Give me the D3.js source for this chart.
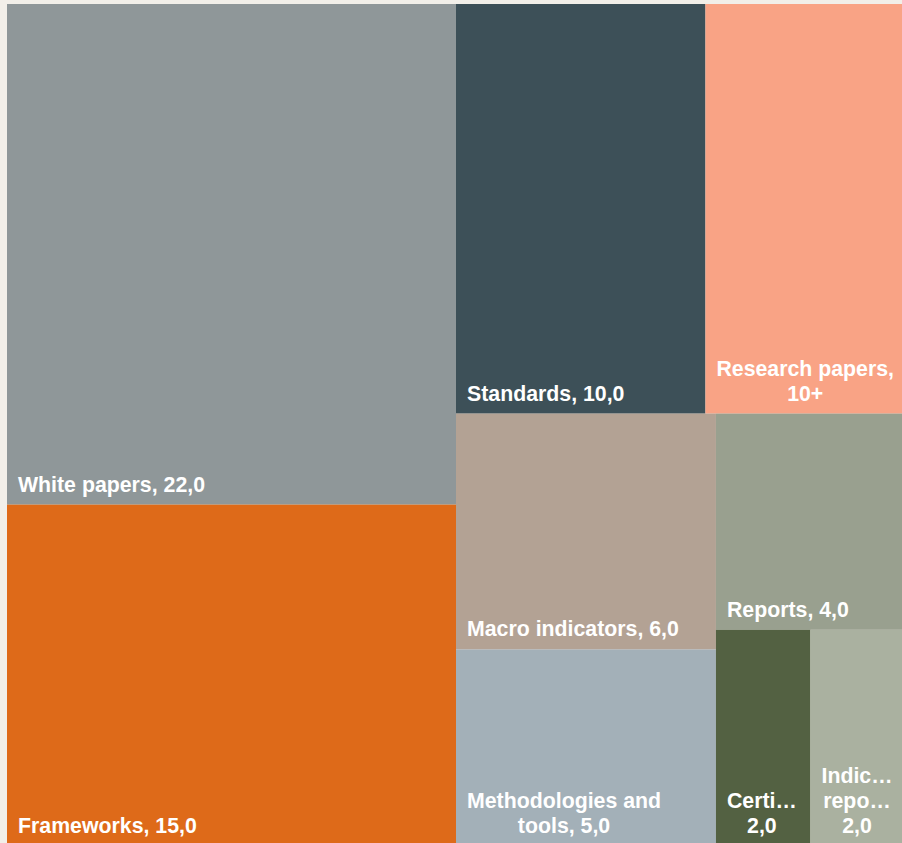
<!DOCTYPE html>
<html>
<head>
<meta charset="utf-8">
<script src="https://cdn.jsdelivr.net/npm/d3@7"></script>
<style>
  body { margin: 0; background: #f2efe9; overflow: hidden; }
  svg { display: block; }
  .lbl { font-family: "Liberation Sans", Arial, sans-serif; font-weight: bold; font-size: 21.3px; fill: #fff; }
</style>
</head>
<body>
<div id="chart"></div>
<script>
var categories = ["White papers", "Frameworks", "Standards", "Research papers", "Macro indicators",
  "Methodologies and tools", "Reports", "Certifications", "Indicator reports"];
var values = [22, 15, 10, 8, 6, 5, 4, 2, 2];
var valueLabels = ["22,0", "15,0", "10,0", "10+", "6,0", "5,0", "4,0", "2,0", "2,0"];

var palette = ["#8f9799", "#de6a19", "#3d5058", "#f9a385", "#b3a294",
  "#a3b0b8", "#99a08f", "#536142", "#aab1a0"];

var width = 902, height = 843;
var offsetX = 7, offsetY = 4;

var color = d3.scaleOrdinal().domain(categories).range(palette);

var svg = d3.select("#chart").append("svg")
  .attr("width", width)
  .attr("height", height);

var data = categories.map(function(c, i) {
  return {name: c, value: values[i], label: valueLabels[i]};
});

var root = d3.hierarchy({children: data})
  .sum(function(d) { return d.value || 0; })
  .sort(function(a, b) { return b.value - a.value; });

// plot runs a little past the bottom edge of the frame
d3.treemap()
  .size([898, 842])
  .tile(d3.treemapSquarify)
  .round(false)(root);

var g = svg.append("g").attr("transform", "translate(" + offsetX + "," + offsetY + ")");

var cell = g.selectAll("g.cell").data(root.leaves())
  .enter().append("g").attr("class", "cell");

cell.append("rect")
  .attr("x", function(d) { return d.x0; })
  .attr("y", function(d) { return d.y0; })
  .attr("width", function(d) { return d.x1 - d.x0; })
  .attr("height", function(d) { return d.y1 - d.y0; })
  .style("fill", function(d) { return color(d.data.name); });

// scratch text to measure words
var probe = svg.append("text").attr("class", "lbl").attr("x", -1000).attr("y", -1000);
function measure(s) {
  probe.text(s);
  return probe.node().getComputedTextLength();
}

function fitWord(word, maxW) {
  if (measure(word) <= maxW) return word;
  var s = word;
  while (s.length > 1) {
    s = s.slice(0, -1);
    if (measure(s + "\u2026") <= maxW) return s + "\u2026";
  }
  return s + "\u2026";
}

function wrap(text, maxW) {
  var words = text.split(" ").map(function(w) { return fitWord(w, maxW); });
  var lines = [], cur = "";
  words.forEach(function(w) {
    var test = cur ? cur + " " + w : w;
    if (cur && measure(test) > maxW) {
      lines.push(cur);
      cur = w;
    } else {
      cur = test;
    }
  });
  if (cur) lines.push(cur);
  return lines;
}

var pad = 11, lineH = 25;

cell.each(function(d) {
  var maxW = d.x1 - d.x0 - 20;
  var lines = wrap(d.data.name + ", " + d.data.label, maxW);
  var widths = lines.map(measure);
  var widest = d3.max(widths);
  var t = d3.select(this).append("text").attr("class", "lbl");
  lines.forEach(function(l, i) {
    t.append("tspan")
      .attr("x", d.x0 + pad + (widest - widths[i]) / 2)
      .attr("y", d.y1 - 13 - (lines.length - 1 - i) * lineH)
      .text(l);
  });
});

probe.remove();
</script>
</body>
</html>
